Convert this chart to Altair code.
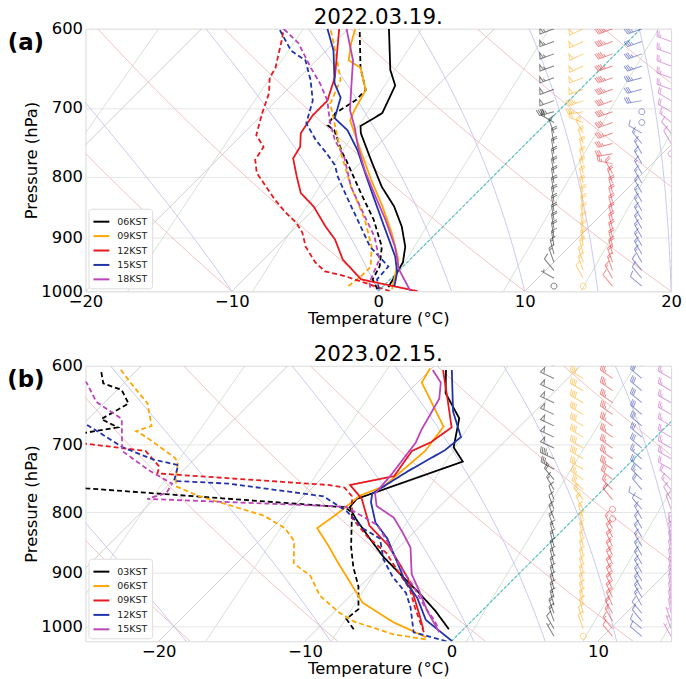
import numpy as np
import pandas as pd
import altair as alt

FONT = "DejaVu Sans"

# ---------------- chart metadata ----------------
TITLES = ["2022.03.19.", "2023.02.15."]
PANEL_LABELS = ["(a)", "(b)"]
TIMES_A = ["06KST", "09KST", "12KST", "15KST", "18KST"]
TIMES_B = ["03KST", "06KST", "09KST", "12KST", "15KST"]
LINE_COLORS = ["#000000", "#ffa500", "#e8191e", "#2233aa", "#bb44bb"]
X_RANGE_A = [-20, 20]
X_RANGE_B = [-25, 15]
P_RANGE_A = [600, 1000]
P_RANGE_B = [600, 1030]
X_TICKS_A = [-20, -10, 0, 10, 20]
X_TICKS_B = [-20, -10, 0, 10]
P_TICKS = [600, 700, 800, 900, 1000]
BARB_XLOC = [0.80, 0.85, 0.90, 0.95, 1.00]

# ---------------- panel (a) profiles: pressure (hPa) / temperature (C) ----------------
A06_TP = [992, 971, 945, 917, 882, 848, 816, 774, 735, 725, 707, 670, 650, 600]
A06_T = [0.4, 0.1, -0.3, -1.2, -2.8, -4.7, -6.9, -9.5, -12.0, -12.5, -11.9, -12.9, -14.3, -17.2]
A06_DP = [996, 977, 953, 917, 870, 826, 774, 764, 731, 724, 707, 690, 676, 647, 600]
A06_TD = [-0.2, -1.2, -1.6, -2.8, -5.2, -7.9, -11.2, -11.9, -14.0, -14.8, -15.1, -14.6, -14.6, -16.5, -19.2]

A09_TP = [996, 971, 940, 892, 848, 805, 764, 717, 703, 676, 647, 638, 617, 600]
A09_T = [0.8, 0.1, -0.8, -3.1, -5.5, -8.1, -10.6, -13.6, -14.0, -14.6, -16.5, -17.8, -18.8, -19.5]
A09_DP = [990, 970, 953, 917, 870, 816, 764, 694, 663, 647, 617, 600]
A09_TD = [-2.4, -2.2, -2.2, -3.5, -5.8, -9.0, -12.0, -16.1, -17.0, -18.0, -20.0, -21.2]

A12_TP = [1000, 977, 940, 904, 882, 848, 826, 800, 772, 755, 735, 710, 690, 659, 600]
A12_T = [2.7, -2.0, -4.6, -6.5, -8.0, -10.2, -12.0, -13.4, -14.9, -15.2, -16.1, -16.5, -16.5, -17.6, -20.6]
A12_DP = [1000, 971, 962, 945, 917, 892, 875, 858, 837, 816, 794, 774, 755, 738, 707, 680, 660, 647, 610, 600]
A12_TD = [0.8, -3.3, -5.0, -6.3, -8.0, -9.2, -10.3, -11.7, -13.3, -14.8, -16.4, -17.4, -17.7, -19.0, -20.1, -21.0, -22.0, -22.3, -23.9, -24.4]

A15_TP = [990, 964, 935, 882, 837, 794, 760, 731, 714, 686, 667, 626, 600]
A15_T = [0.75, 0.0, -1.2, -4.0, -6.5, -9.0, -11.05, -13.1, -14.8, -15.8, -17.2, -19.5, -21.4]
A15_DP = [996, 977, 953, 917, 882, 837, 800, 782, 764, 745, 721, 690, 663, 638, 626, 600]
A15_TD = [-0.1, -0.9, -1.0, -3.6, -5.6, -8.3, -10.6, -11.6, -13.0, -14.6, -16.4, -17.5, -19.05, -20.75, -22.4, -24.7]

A18_TP = [1000, 958, 917, 870, 826, 790, 755, 727, 703, 676, 638, 600]
A18_T = [2.2, -0.1, -1.9, -4.4, -7.0, -9.2, -11.25, -12.8, -14.3, -15.6, -17.5, -20.1]
A18_DP = [993, 983, 940, 899, 865, 816, 770, 745, 717, 690, 667, 647, 617, 600]
A18_TD = [-0.8, -1.2, -2.1, -4.0, -6.0, -9.0, -11.5, -13.3, -15.0, -16.5, -18.2, -19.9, -22.4, -24.4]

# ---------------- panel (b) profiles ----------------
B03_TP = [1006, 970, 937, 908, 873, 842, 810, 792, 779, 724, 704, 665, 633, 605]
B03_T = [-1.0, -3.2, -5.5, -7.7, -10.4, -12.6, -14.9, -16.1, -16.2, -11.5, -13.1, -14.7, -17.35, -18.9]
B03_DP = [1006, 986, 967, 925, 891, 856, 819, 800, 792, 763, 750, 700, 684, 677, 666, 646, 629, 621, 606]
B03_TD = [-7.5, -8.7, -8.55, -10.1, -11.75, -13.3, -14.8, -15.6, -16.4, -35.4, -42.0, -44.0, -39.2, -37.4, -39.1, -38.3, -39.7, -41.4, -42.4]

B06_TP = [1022, 992, 955, 907, 884, 856, 825, 801, 774, 760, 734, 709, 676, 620, 603]
B06_T = [-2.0, -5.3, -8.7, -11.6, -13.05, -14.8, -16.9, -16.5, -16.2, -15.2, -15.0, -14.8, -15.2, -19.7, -20.1]
B06_DP = [1026, 1016, 991, 974, 942, 906, 884, 846, 825, 805, 789, 774, 760, 746, 725, 718, 690, 682, 675, 646, 620, 604]
B06_TD = [-1.9, -4.45, -8.0, -9.6, -12.1, -14.1, -16.1, -17.6, -19.1, -21.4, -24.4, -27.3, -29.4, -30.05, -30.9, -31.5, -34.8, -35.9, -35.2, -37.0, -39.6, -41.2]

B09_TP = [1006, 980, 946, 910, 887, 853, 821, 779, 758, 745, 709, 697, 677, 639, 605]
B09_T = [-2.75, -3.9, -5.5, -7.3, -8.7, -10.9, -13.5, -15.85, -17.6, -15.2, -15.7, -15.0, -14.6, -16.9, -19.1]
B09_DP = [1012, 964, 930, 900, 866, 840, 809, 775, 762, 758, 741, 731, 709, 699, 650, 600]
B09_TD = [-2.5, -4.8, -6.4, -8.3, -10.5, -12.8, -15.2, -16.7, -17.8, -19.1, -31.55, -31.9, -33.9, -38.5, -45.0, -50.0]

B12_TP = [1030, 988, 946, 915, 884, 842, 816, 784, 771, 738, 708, 690, 656, 605]
B12_T = [0.05, -3.2, -5.3, -7.3, -9.0, -11.4, -13.3, -15.0, -15.5, -14.6, -13.5, -13.3, -15.6, -18.5]
B12_DP = [1030, 1012, 964, 937, 908, 877, 842, 826, 798, 775, 756, 752, 729, 721, 704, 672, 620]
B12_TD = [-0.35, -3.2, -5.1, -6.4, -8.4, -10.25, -11.9, -13.7, -16.05, -18.65, -26.0, -29.9, -30.7, -32.8, -35.7, -39.9, -47.0]

B15_TP = [1012, 971, 934, 903, 857, 830, 808, 790, 771, 742, 698, 680, 640, 620, 605]
B15_T = [-1.45, -3.7, -5.6, -7.3, -9.2, -10.9, -12.4, -14.35, -15.3, -15.5, -16.0, -16.5, -17.4, -18.4, -19.8]
B15_DP = [1000, 986, 964, 924, 888, 850, 820, 791, 779, 770, 756, 736, 709, 666, 644, 620, 600]
B15_TD = [-2.0, -2.75, -4.1, -6.4, -8.7, -11.0, -13.0, -16.4, -30.5, -29.6, -29.85, -32.4, -35.5, -37.7, -40.6, -42.6, -46.0]

# ---------------- wind (speed kt / direction deg) ----------------
WIND_P_A = [600, 615, 630, 645, 660, 675, 690, 705, 720, 735, 750, 765, 780, 795,
            810, 825, 840, 855, 870, 885, 900, 915, 930, 945, 960, 975, 990]
A_SPD_06 = [55, 55, 55, 55, 55, 50, 50, 45, 25, 15, 20, 20, 20, 20, 20, 20, 20, 20, 20, 20, 20, 15, 15, 15, 10, 5, 0]
A_DIR_06 = [250, 250, 250, 250, 250, 250, 250, 255, 300, 340, 350, 350, 350, 350, 350, 350, 350, 350, 350, 350, 350, 350, 345, 340, 320, 300, 0]
A_SPD_09 = [50, 50, 50, 50, 50, 50, 45, 35, 25, 20, 20, 20, 20, 20, 20, 20, 20, 20, 20, 20, 20, 20, 20, 15, 15, 10, 0]
A_DIR_09 = [245, 245, 245, 245, 250, 250, 250, 260, 290, 330, 340, 345, 345, 345, 345, 345, 350, 350, 350, 350, 350, 350, 345, 340, 340, 330, 0]
A_SPD_12 = [45, 45, 45, 45, 45, 45, 40, 40, 40, 35, 35, 30, 25, 20, 20, 20, 20, 20, 20, 20, 20, 20, 20, 20, 15, 15, 10]
A_DIR_12 = [250, 250, 250, 250, 250, 250, 250, 250, 250, 250, 255, 260, 280, 330, 340, 345, 345, 345, 345, 345, 345, 345, 345, 340, 340, 330, 320]
A_SPD_15 = [35, 35, 35, 35, 35, 30, 30, 0, 0, 10, 15, 15, 15, 15, 15, 15, 15, 15, 15, 15, 15, 15, 15, 15, 10, 10, 10]
A_DIR_15 = [250, 250, 250, 250, 255, 255, 260, 0, 0, 300, 320, 330, 330, 330, 330, 330, 330, 330, 330, 330, 330, 330, 330, 330, 320, 320, 310]
A_SPD_18 = [25, 25, 25, 25, 25, 25, 20, 20, 15, 10, 10, 0, 10, 10, 10, 10, 10, 10, 10, 10, 10, 10, 10, 10, 10, 10, 5]
A_DIR_18 = [290, 290, 290, 290, 290, 290, 300, 300, 310, 320, 330, 0, 10, 10, 10, 10, 10, 10, 10, 10, 10, 10, 10, 10, 10, 10, 20]

WIND_P_B = [600, 615, 630, 645, 660, 675, 690, 705, 720, 735, 750, 765, 780, 795, 810,
            825, 840, 855, 870, 885, 900, 915, 930, 945, 960, 975, 990, 1005, 1020]
B_SPD_03 = [50, 50, 50, 50, 50, 50, 50, 50, 45, 35, 20, 15, 10, 10, 15, 15, 15, 15, 15, 15, 15, 15, 15, 15, 15, 15, 15, 10, 5]
B_DIR_03 = [295, 295, 295, 295, 295, 295, 295, 295, 295, 300, 320, 330, 340, 340, 340, 340, 345, 345, 345, 345, 345, 345, 345, 345, 345, 340, 340, 330, 330]
B_SPD_06 = [40, 40, 40, 40, 40, 40, 40, 40, 40, 35, 35, 30, 25, 20, 15, 15, 15, 15, 15, 15, 15, 15, 15, 15, 15, 15, 10, 10, 0]
B_DIR_06 = [300, 300, 300, 300, 300, 300, 300, 300, 300, 300, 305, 310, 320, 330, 340, 345, 345, 345, 345, 345, 345, 345, 345, 345, 345, 345, 340, 340, 0]
B_SPD_09 = [35, 35, 35, 35, 35, 35, 35, 35, 35, 35, 30, 25, 20, 0, 0, 15, 20, 20, 20, 20, 20, 20, 20, 20, 20, 20, 15, 15, 10]
B_DIR_09 = [305, 305, 305, 305, 305, 305, 305, 305, 305, 305, 310, 315, 320, 0, 0, 330, 335, 335, 335, 335, 335, 335, 335, 335, 335, 330, 330, 320, 320]
B_SPD_12 = [30, 30, 30, 30, 30, 30, 30, 30, 25, 25, 25, 20, 10, 10, 15, 15, 15, 15, 15, 15, 15, 15, 15, 15, 15, 10, 10, 10, 10]
B_DIR_12 = [310, 310, 310, 310, 310, 310, 310, 310, 310, 310, 315, 320, 300, 320, 330, 330, 330, 330, 330, 330, 330, 330, 330, 330, 330, 320, 320, 310, 310]
B_SPD_15 = [25, 25, 25, 25, 25, 25, 25, 25, 25, 20, 20, 15, 10, 10, 0, 10, 10, 10, 10, 10, 10, 10, 10, 10, 10, 10, 5, 5, 5]
B_DIR_15 = [300, 300, 300, 300, 300, 300, 300, 300, 300, 300, 310, 320, 330, 340, 0, 350, 350, 350, 350, 350, 350, 350, 350, 350, 350, 350, 340, 340, 330]

# ---------------- skew-T reference lines (standard levels) ----------------
DRY_T0 = list(range(-40, 201, 10))
MOIST_T0 = [-50, -40, -30, -20, -10, 0, 5, 10, 15, 20, 25, 30, 35, 40, 45]
MIX_W = [0.0004, 0.001, 0.002, 0.004, 0.007, 0.01, 0.016, 0.024, 0.032]
ISO_T = list(range(-90, 50, 10))


def barb_path(spd):
    if spd < 2.5:
        return "M-0.2,0A0.2,0.2 0 1,0 0.2,0A0.2,0.2 0 1,0 -0.2,0Z"
    h, w, s = 0.4, 0.25, 0.125
    spd5 = int(round(spd / 5.0) * 5)
    n50, rem = divmod(spd5, 50)
    n10, rem = divmod(rem, 10)
    half = rem >= 5
    d = "M0,0L0,-1"
    pos = -1.0
    for _ in range(n50):
        if pos != -1.0:
            pos += s / 2
        d += f"M0,{pos:.3f}L{h},{pos + w / 2:.3f}L0,{pos + w:.3f}Z"
        pos += w + s
    for _ in range(n10):
        d += f"M0,{pos:.3f}L{h},{pos - w / 2:.3f}"
        pos += s
    if half:
        if pos == -1.0:
            pos += 1.5 * s
        d += f"M0,{pos:.3f}L{h / 2},{pos - w / 4:.3f}"
    return d


def moist_profile(t0c, p_levels):
    def f(T, p):
        es = 6.112 * np.exp(17.67 * (T - 273.15) / (T - 29.65))
        rs = 0.622 * es / (p - es)
        return (287.04 * T + 2.501e6 * rs) / (1005.7 + 2.501e6 ** 2 * rs * 0.622 / (287.04 * T * T))
    out = []
    for pt in p_levels:
        T = t0c + 273.15
        lp0, lp1 = np.log(1000.0), np.log(pt)
        n = 40
        hstep = (lp1 - lp0) / n
        lp = lp0
        for _ in range(n):
            p = np.exp(lp)
            k1 = f(T, p)
            k2 = f(T + hstep * k1 / 2, np.exp(lp + hstep / 2))
            k3 = f(T + hstep * k2 / 2, np.exp(lp + hstep / 2))
            k4 = f(T + hstep * k3, np.exp(lp + hstep))
            T += hstep * (k1 + 2 * k2 + 2 * k3 + k4) / 6
            lp += hstep
        out.append(T - 273.15)
    return np.array(out)


def build_panel(idx, times, xr, pr, xticks, profiles, wind_p, winds, height):
    W = 589
    H = height
    tmin, tmax = xr
    pmin, pbot = pr
    K = (H / np.log(pbot / pmin)) / (W / (tmax - tmin))

    def sx(T, p):
        return np.asarray(T, float) + K * np.log(pbot / np.asarray(p, float))

    xscale = alt.Scale(domain=xr, nice=False, zero=False)
    yscale = alt.Scale(type="log", domain=[pmin, pbot], reverse=True, nice=False)
    xaxis = alt.Axis(values=xticks, format="d", grid=False, ticks=False, tickSize=0, domain=False,
                     labelFontSize=16.5, titleFontSize=16.5, labelPadding=2, titlePadding=1,
                     labelExpr="replace(datum.label, '-', '\u2212')", labelFlush=False)
    yaxis = alt.Axis(values=P_TICKS, format="d", grid=True, gridColor="#e6e6e6", ticks=False,
                     tickSize=0, domain=False, labelFontSize=16.5, titleFontSize=16.5,
                     labelPadding=3, titlePadding=1, labelFlush=False)

    def X(field="x"):
        return alt.X(f"{field}:Q", scale=xscale, axis=xaxis, title="Temperature (\u00b0C)")

    def Y(field="p"):
        return alt.Y(f"{field}:Q", scale=yscale, axis=yaxis, title="Pressure (hPa)")

    pgrid = np.geomspace(pbot, pmin, 40)

    # background lines
    iso = pd.DataFrame([{"id": t, "p": p, "x": float(sx(t, p))} for t in ISO_T for p in (pbot, pmin)])
    dry = pd.DataFrame([{"id": t0, "p": p, "x": float(sx((t0 + 273.15) * (p / 1000.0) ** 0.2857 - 273.15, p))}
                        for t0 in DRY_T0 for p in pgrid])
    mrows = []
    for t0 in MOIST_T0:
        tv = moist_profile(t0, pgrid)
        for p, t in zip(pgrid, tv):
            mrows.append({"id": t0, "p": p, "x": float(sx(t, p))})
    moist = pd.DataFrame(mrows)
    wrows = []
    for w in MIX_W:
        for p in np.geomspace(pbot, 600, 20):
            e = w * p / (0.622 + w)
            a = np.log(e / 6.112)
            td = 243.5 * a / (17.67 - a)
            wrows.append({"id": w, "p": p, "x": float(sx(td, p))})
    mix = pd.DataFrame(wrows)
    zero = pd.DataFrame([{"p": p, "x": float(sx(0, p))} for p in (pbot, pmin)])

    def bg(df, color, width, dash=None, opacity=1.0):
        kw = dict(color=color, strokeWidth=width, clip=True, opacity=opacity)
        if dash:
            kw["strokeDash"] = dash
        enc = dict(x=X(), y=Y(), order=alt.Order("p:Q", sort="descending"))
        if "id" in df.columns:
            enc["detail"] = "id:N"
        return alt.Chart(df).mark_line(**kw).encode(**enc)

    # profiles
    rows = []
    for time, (tp, tt, dp, td) in zip(times, profiles):
        for kind, P, V in (("T", tp, tt), ("Td", dp, td)):
            for p, x in zip(P, sx(V, P)):
                rows.append({"time": time, "kind": kind, "p": p, "x": float(x)})
    prof = pd.DataFrame(rows)

    cscale = alt.Scale(domain=times, range=LINE_COLORS)
    lines = alt.Chart(prof).mark_line(strokeWidth=1.8, clip=True).encode(
        x=X(), y=Y(),
        color=alt.Color("time:N", scale=cscale, sort=times,
                        legend=alt.Legend(orient="bottom-left", title=None, symbolType="stroke",
                                          symbolStrokeWidth=2, symbolSize=256, labelFontSize=9.5,
                                          labelFont=FONT, labelColor="#222222", fillColor="white",
                                          strokeColor="#dddddd", padding=4, rowPadding=0.5, offset=3,
                                          cornerRadius=3, labelOffset=7)),
        strokeDash=alt.StrokeDash("kind:N", scale=alt.Scale(domain=["T", "Td"], range=[[1, 0], [5, 3]]),
                                  legend=None),
        order=alt.Order("p:Q", sort="descending"),
        detail="kind:N",
    )

    # barbs
    brows = []
    for time, xl, (spds, dirs) in zip(times, BARB_XLOC, winds):
        for p, s, d in zip(wind_p, spds, dirs):
            spd5 = int(round(s / 5.0) * 5)
            brows.append({"time": time, "p": p, "x": tmin + xl * (tmax - tmin),
                          "code": f"s{spd5}", "dir": d})
    barbs = pd.DataFrame(brows)
    codes = sorted(barbs["code"].unique(), key=lambda c: int(c[1:]))
    paths = [barb_path(int(c[1:])) for c in codes]
    barb_layer = alt.Chart(barbs).mark_point(filled=False, size=900, strokeWidth=1, opacity=0.5,
                                             clip=True).encode(
        x=X(), y=Y(),
        color=alt.Color("time:N", scale=cscale, legend=None),
        shape=alt.Shape("code:N", scale=alt.Scale(domain=codes, range=paths), legend=None),
        angle=alt.Angle("dir:Q", scale=alt.Scale(domain=[0, 360], range=[0, 360])),
    )

    label = alt.Chart(pd.DataFrame({"lab": [PANEL_LABELS[idx]]})).mark_text(
        fontSize=23, fontWeight="bold", font=FONT, align="center", baseline="middle", color="black"
    ).encode(text="lab:N", x=alt.value(-60), y=alt.value(14))

    layers = [
        bg(iso, "#c4c4c4", 0.8),
        bg(mix, "#c9dcc9", 0.8),
        bg(dry, "#f2bcbc", 0.9),
        bg(moist, "#c4c4ee", 0.9),
        bg(zero, "#4fc6c6", 1.2, dash=[3, 2]),
        lines,
        barb_layer,
        label,
    ]
    return alt.layer(*layers).properties(
        width=W, height=H,
        title=alt.TitleParams(TITLES[idx], fontSize=21.5, font=FONT, fontWeight="normal",
                              anchor="middle", frame="group", offset=-8, color="black"),
    )


panel_a = build_panel(
    0, TIMES_A, X_RANGE_A, P_RANGE_A, X_TICKS_A,
    [(A06_TP, A06_T, A06_DP, A06_TD), (A09_TP, A09_T, A09_DP, A09_TD),
     (A12_TP, A12_T, A12_DP, A12_TD), (A15_TP, A15_T, A15_DP, A15_TD),
     (A18_TP, A18_T, A18_DP, A18_TD)],
    WIND_P_A,
    [(A_SPD_06, A_DIR_06), (A_SPD_09, A_DIR_09), (A_SPD_12, A_DIR_12),
     (A_SPD_15, A_DIR_15), (A_SPD_18, A_DIR_18)],
    264,
)
panel_b = build_panel(
    1, TIMES_B, X_RANGE_B, P_RANGE_B, X_TICKS_B,
    [(B03_TP, B03_T, B03_DP, B03_TD), (B06_TP, B06_T, B06_DP, B06_TD),
     (B09_TP, B09_T, B09_DP, B09_TD), (B12_TP, B12_T, B12_DP, B12_TD),
     (B15_TP, B15_T, B15_DP, B15_TD)],
    WIND_P_B,
    [(B_SPD_03, B_DIR_03), (B_SPD_06, B_DIR_06), (B_SPD_09, B_DIR_09),
     (B_SPD_12, B_DIR_12), (B_SPD_15, B_DIR_15)],
    277,
)

chart = alt.vconcat(panel_a, panel_b, spacing=16).resolve_scale(
    color="independent", shape="independent", strokeDash="independent", angle="independent",
    x="independent", y="independent",
).resolve_legend(color="independent").properties(
    padding={"left": 6, "top": 5, "right": 4, "bottom": 0},
    background="white",
).configure_view(stroke="#d9d9d9", strokeWidth=1).configure_axis(
    labelFont=FONT, titleFont=FONT, labelColor="black", titleColor="black", titleFontWeight="normal"
)

chart.save("out.html", embed_options={"renderer": "svg", "actions": False})
